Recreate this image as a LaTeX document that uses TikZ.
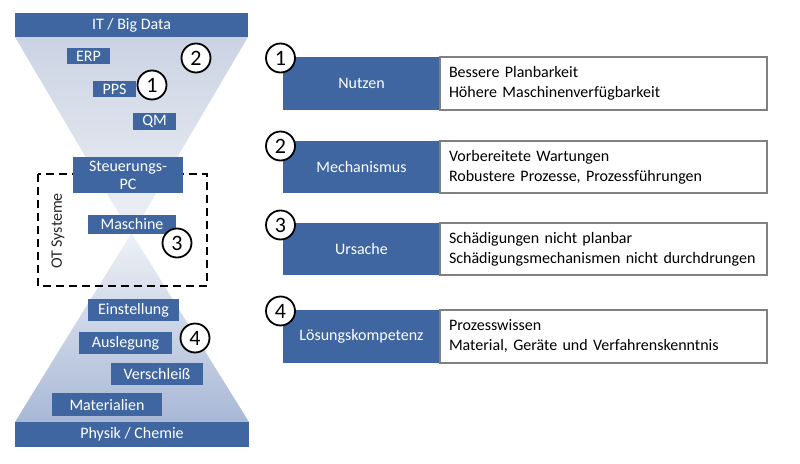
\documentclass[tikz,border=0pt]{standalone}
\usepackage{fontspec}
\setmainfont{Carlito}
\definecolor{dblue}{HTML}{3F66A0}
\definecolor{tritop}{HTML}{CBD3E3}
\definecolor{trimid}{HTML}{EEF1F6}
\definecolor{tribot}{HTML}{A8B8D6}
\definecolor{boxline}{HTML}{808080}
\begin{document}
\begin{tikzpicture}[x=1pt,y=-1pt,
  bluebox/.style={fill=dblue,text=white,inner sep=0pt,align=center,font=\fontsize{16}{17}\selectfont},
  whitebox/.style={fill=white,draw=boxline,line width=1.2pt,inner xsep=9pt,inner ysep=0pt,align=left,text width=309pt,font=\fontsize{16}{20}\selectfont},
  num/.style={circle,draw=black,line width=1.8pt,fill=white,minimum size=29pt,inner sep=0pt,font=\fontsize{22}{22}\selectfont},
  otframe/.style={draw=black,line width=2.2pt,dash pattern=on 8pt off 5pt}]
\useasboundingbox (0,0) rectangle (800,463);
% funnel triangles
\shade[top color=tritop,bottom color=trimid] (15,37) -- (248,37) -- (131.5,235) -- cycle;
\shade[top color=trimid,bottom color=tribot] (131.5,233) -- (249,422) -- (15,422) -- cycle;
% dashed OT frame
\draw[otframe] (38,174) rectangle (207,286);
\node[rotate=90,font=\fontsize{16}{17}\selectfont,text=black!85] (ot) at (58,231) {OT Systeme};
% bars
\node[bluebox,minimum width=233pt,minimum height=24pt] (it) at (131.5,25) {IT / Big Data};
\node[bluebox,minimum width=234pt,minimum height=25pt] (phys) at (132,434.5) {Physik / Chemie};
% upper boxes
\node[bluebox,minimum width=43pt,minimum height=16pt] (erp) at (88.5,56) {ERP};
\node[bluebox,minimum width=43pt,minimum height=16pt] (pps) at (114.5,89) {PPS};
\node[bluebox,minimum width=43pt,minimum height=17pt] (qm) at (154.5,121.5) {QM};
\node[bluebox,minimum width=110pt,minimum height=36pt,font=\fontsize{16}{18}\selectfont] (spc) at (128,175) {Steuerungs-\\PC};
\node[bluebox,minimum width=88pt,minimum height=19pt] (ma) at (132,224.5) {Maschine};
% lower boxes
\node[bluebox,minimum width=91pt,minimum height=22pt] (ein) at (133.5,310) {Einstellung};
\node[bluebox,minimum width=93pt,minimum height=22pt] (aus) at (125.5,343) {Auslegung};
\node[bluebox,minimum width=92pt,minimum height=22pt] (ver) at (157,374) {Verschleiß};
\node[bluebox,minimum width=110pt,minimum height=23pt] (mat) at (107,404.5) {Materialien};
% left numbers
\node[num] (l2) at (196,58) {2};
\node[num] (l1) at (152,85) {1};
\node[num] (l3) at (177,243) {3};
\node[num] (l4) at (195,338) {4};
% right table
\node[bluebox,minimum width=157pt,minimum height=53pt] (b1) at (361.5,83.5) {Nutzen};
\node[whitebox,minimum height=53pt] (w1) at (603.5,83.5) {Bessere Planbarkeit\\Höhere Maschinenverfügbarkeit};
\node[bluebox,minimum width=157pt,minimum height=52pt] (b2) at (361.5,167) {Mechanismus};
\node[whitebox,minimum height=52pt] (w2) at (603.5,167) {Vorbereitete Wartungen\\Robustere Prozesse, Prozessführungen};
\node[bluebox,minimum width=157pt,minimum height=52pt] (b3) at (361.5,249) {Ursache};
\node[whitebox,minimum height=52pt] (w3) at (603.5,249) {Schädigungen nicht planbar\\Schädigungsmechanismen nicht durchdrungen};
\node[bluebox,minimum width=157pt,minimum height=53pt] (b4) at (361.5,336.5) {Lösungskompetenz};
\node[whitebox,minimum height=53pt] (w4) at (603.5,336.5) {Prozesswissen\\Material, Geräte und Verfahrenskenntnis};
\node[num] (r1) at (280.5,58) {1};
\node[num] (r2) at (280.5,146) {2};
\node[num] (r3) at (280.5,225) {3};
\node[num] (r4) at (280.5,311) {4};
\end{tikzpicture}
\end{document}
